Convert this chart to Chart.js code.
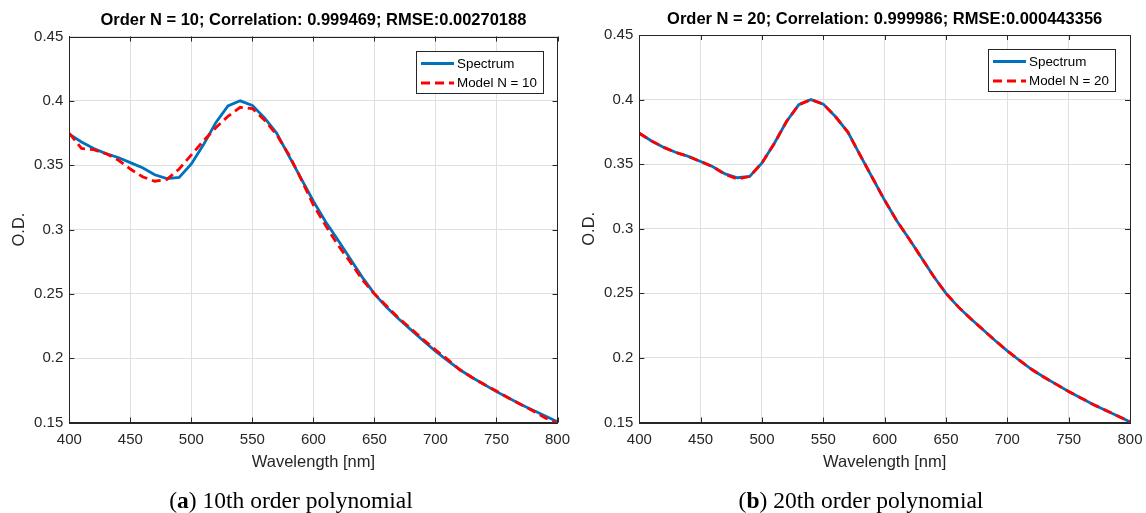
<!DOCTYPE html>
<html>
<head>
<meta charset="utf-8">
<script src="https://cdn.jsdelivr.net/npm/chart.js@4.4.1/dist/chart.umd.min.js"></script>
<style>
  html, body { margin: 0; padding: 0; background: #fff; }
  #wrap { position: relative; width: 1146px; height: 513px; overflow: hidden; }
  .panel { position: absolute; top: 0; height: 513px; }
  #panelA { left: 0; width: 570px; }
  #panelB { left: 570px; width: 576px; }
  .caption {
    position: absolute; top: 487px; line-height: 26px;
    font: 23.5px "Liberation Serif", serif; color: #000;
    white-space: nowrap; transform: translateX(-50%);
  }
</style>
</head>
<body>
<div id="wrap">
  <div class="panel" id="panelA"><canvas id="chartA"></canvas></div>
  <div class="panel" id="panelB"><canvas id="chartB"></canvas></div>
  <div class="caption" style="left:291px">(<b>a</b>) 10th order polynomial</div>
  <div class="caption" style="left:861px">(<b>b</b>) 20th order polynomial</div>
</div>
<script>
'use strict';

// ── Data (10 nm steps) ────────────────────────────────────────────────────────

const WAVELENGTHS = [
  400, 410, 420, 430, 440, 450, 460, 470, 480, 490,
  500, 510, 520, 530, 540, 550, 560, 570, 580, 590,
  600, 610, 620, 630, 640, 650, 660, 670, 680, 690,
  700, 710, 720, 730, 740, 750, 760, 770, 780, 790, 800,
];

const SPECTRUM = [
  0.374, 0.368, 0.363, 0.359, 0.356, 0.352, 0.348, 0.3425, 0.3395, 0.3405,
  0.351, 0.366, 0.383, 0.396, 0.400, 0.3965, 0.3867, 0.3748, 0.357, 0.3395,
  0.322, 0.306, 0.292, 0.2775, 0.263, 0.250, 0.2395, 0.2305, 0.222, 0.2135,
  0.2055, 0.198, 0.191, 0.185, 0.1795, 0.174, 0.169, 0.164, 0.1595, 0.155, 0.1505,
];

const MODEL_10 = [
  0.3748, 0.363, 0.362, 0.359, 0.354, 0.347, 0.341, 0.3375, 0.339, 0.347,
  0.358, 0.369, 0.379, 0.388, 0.395, 0.394, 0.385, 0.3735, 0.358, 0.339,
  0.319, 0.303, 0.288, 0.275, 0.261, 0.250, 0.2405, 0.231, 0.223, 0.2145,
  0.2065, 0.199, 0.191, 0.185, 0.1795, 0.1745, 0.169, 0.164, 0.159, 0.1535, 0.1495,
];

const MODEL_20 = [
  0.374, 0.368, 0.363, 0.359, 0.356, 0.352, 0.348, 0.342, 0.3385, 0.3405,
  0.351, 0.366, 0.383, 0.396, 0.400, 0.3965, 0.3867, 0.3748, 0.357, 0.3395,
  0.322, 0.306, 0.292, 0.2775, 0.263, 0.250, 0.2395, 0.2305, 0.222, 0.2135,
  0.2055, 0.198, 0.191, 0.185, 0.1795, 0.174, 0.169, 0.164, 0.1595, 0.155, 0.1505,
];

const X_TICKS = [400, 450, 500, 550, 600, 650, 700, 750, 800];
const Y_TICKS = [0.15, 0.2, 0.25, 0.3, 0.35, 0.4, 0.45];

// ── Style ─────────────────────────────────────────────────────────────────────

const AXIS_COLOR = '#262626';
const GRID_COLOR = '#dfdfdf';
const BLUE = '#0072BD';
const RED = '#FF0000';
const SANS = '"Liberation Sans", Arial, sans-serif';

function toPoints(values) {
  return values.map((v, i) => ({ x: WAVELENGTHS[i], y: v }));
}

// MATLAB-like frame: full box, inner tick marks, centred title, boxed legend
const matlabAxes = {
  id: 'matlabAxes',
  afterDraw(chart, args, opts) {
    const { ctx, chartArea: a } = chart;
    const { x, y } = chart.scales;
    ctx.save();

    ctx.strokeStyle = AXIS_COLOR;
    ctx.lineWidth = 1;
    ctx.beginPath();
    X_TICKS.forEach(v => {
      const px = Math.round(x.getPixelForValue(v)) + 0.5;
      ctx.moveTo(px, a.bottom); ctx.lineTo(px, a.bottom - 5);
      ctx.moveTo(px, a.top); ctx.lineTo(px, a.top + 5);
    });
    Y_TICKS.forEach(v => {
      const py = Math.round(y.getPixelForValue(v)) + 0.5;
      ctx.moveTo(a.left, py); ctx.lineTo(a.left + 5, py);
      ctx.moveTo(a.right, py); ctx.lineTo(a.right - 5, py);
    });
    ctx.stroke();
    ctx.strokeRect(Math.round(a.left) + 0.5, Math.round(a.top) + 0.5,
      Math.round(a.right - a.left), Math.round(a.bottom - a.top));

    // title
    ctx.fillStyle = '#000';
    ctx.font = 'bold 16.5px ' + SANS;
    ctx.textAlign = 'center';
    ctx.textBaseline = 'middle';
    ctx.fillText(opts.title, (a.left + a.right) / 2, a.top - 16);

    // legend
    const w = 127, h = 42;
    const bx = Math.round(a.right - 15 - w), by = Math.round(a.top + 14);
    ctx.fillStyle = '#fff';
    ctx.fillRect(bx, by, w, h);
    ctx.strokeStyle = AXIS_COLOR;
    ctx.lineWidth = 1;
    ctx.strokeRect(bx + 0.5, by + 0.5, w, h);
    ctx.font = '13.4px ' + SANS;
    ctx.textAlign = 'left';
    chart.data.datasets.forEach((ds, i) => {
      const ry = by + 12.5 + i * 19.5;
      ctx.strokeStyle = ds.borderColor;
      ctx.lineWidth = ds.borderWidth;
      ctx.setLineDash(ds.borderDash || []);
      ctx.beginPath();
      ctx.moveTo(bx + 5, ry);
      ctx.lineTo(bx + 38, ry);
      ctx.stroke();
      ctx.setLineDash([]);
      ctx.fillStyle = '#000';
      ctx.fillText(ds.label, bx + 41, ry + 0.5);
    });

    ctx.restore();
  },
};

function createFitChart(canvasId, title, modelLabel, modelValues, pad) {
  const canvas = document.getElementById(canvasId);
  return new Chart(canvas, {
    type: 'line',
    data: {
      datasets: [
        {
          label: 'Spectrum',
          data: toPoints(SPECTRUM),
          borderColor: BLUE,
          borderWidth: 2.8,
          pointRadius: 0,
          tension: 0,
          order: 1,
        },
        {
          label: modelLabel,
          data: toPoints(modelValues),
          borderColor: RED,
          borderWidth: 2.8,
          borderDash: [9, 5],
          pointRadius: 0,
          tension: 0,
          order: 0,
        },
      ],
    },
    plugins: [matlabAxes],
    options: {
      responsive: true,
      maintainAspectRatio: false,
      animation: false,
      layout: { padding: { left: 0, top: pad.top, right: pad.right, bottom: 39 } },
      plugins: {
        legend: { display: false },
        tooltip: { enabled: false },
        matlabAxes: { title },
      },
      scales: {
        x: {
          type: 'linear',
          min: 400,
          max: 800,
          afterBuildTicks: s => { s.ticks = X_TICKS.map(v => ({ value: v })); },
          afterFit: s => {
            s.height = 474 - pad.bottomArea;
            // the end labels may overhang; the layout padding already covers them
            s.paddingLeft = 0;
            s.paddingRight = 0;
          },
          ticks: { color: AXIS_COLOR, font: { size: 15, family: SANS }, padding: 8, maxRotation: 0 },
          grid: { color: GRID_COLOR, drawTicks: false },
          border: { color: AXIS_COLOR },
          title: {
            display: true, text: 'Wavelength [nm]', color: AXIS_COLOR,
            font: { size: 16.5, family: SANS }, padding: { top: 0, bottom: 1.5 },
          },
        },
        y: {
          min: 0.15,
          max: 0.45,
          afterBuildTicks: s => { s.ticks = Y_TICKS.map(v => ({ value: v })); },
          afterFit: s => { s.width = 69.3; },
          ticks: {
            color: AXIS_COLOR, font: { size: 15, family: SANS }, padding: 6,
            callback: v => String(+Number(v).toFixed(2)),
          },
          grid: { color: GRID_COLOR, drawTicks: false },
          border: { color: AXIS_COLOR },
          title: {
            display: true, text: 'O.D.', color: AXIS_COLOR,
            font: { size: 16.5, family: SANS }, padding: { top: 10, bottom: 0 },
          },
        },
      },
    },
  });
}

createFitChart('chartA', 'Order N = 10; Correlation: 0.999469; RMSE:0.00270188',
  'Model N = 10', MODEL_10, { top: 36.5, right: 12.5, bottomArea: 422.5 });
createFitChart('chartB', 'Order N = 20; Correlation: 0.999986; RMSE:0.000443356',
  'Model N = 20', MODEL_20, { top: 35, right: 16, bottomArea: 422.5 });
</script>
</body>
</html>
